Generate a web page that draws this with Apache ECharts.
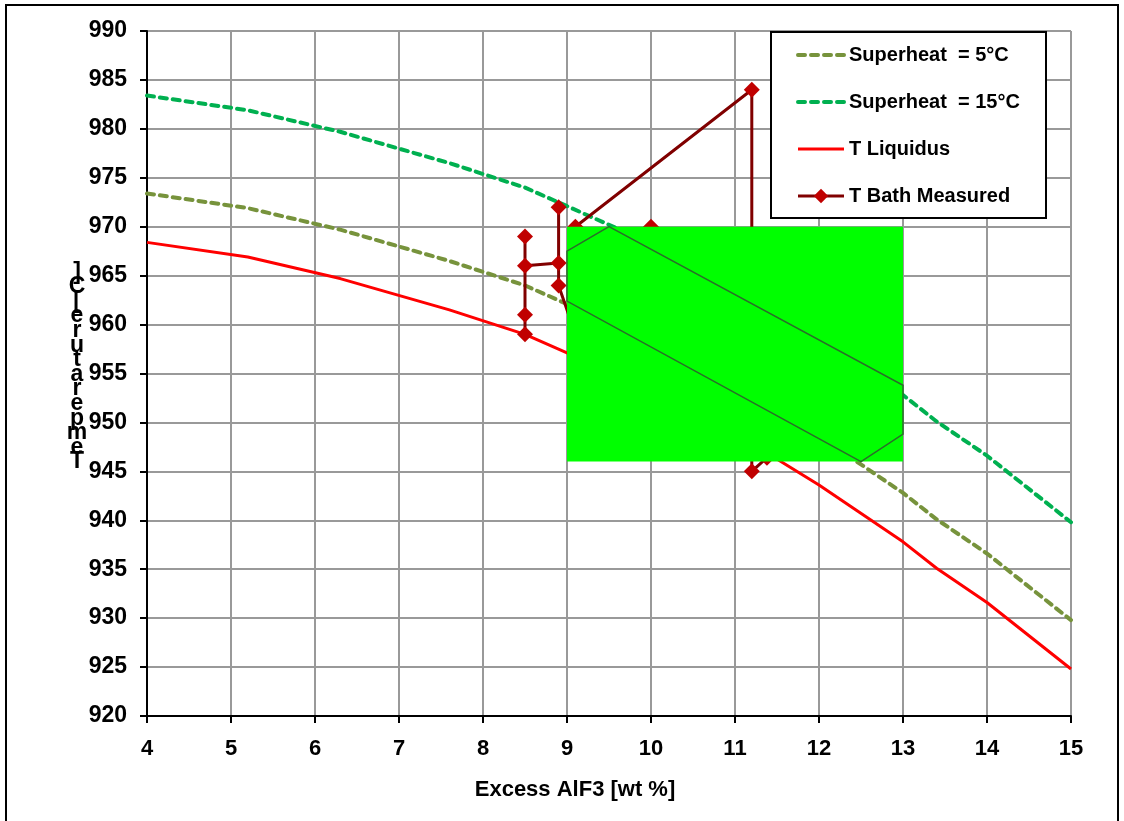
<!DOCTYPE html>
<html>
<head>
<meta charset="utf-8">
<script src="https://cdn.jsdelivr.net/npm/echarts@6/dist/echarts.min.js"></script>
<style>
html,body{margin:0;padding:0;background:#fff;}
#chart{width:1124px;height:821px;}
</style>
</head>
<body>
<div id="chart"></div>
<script>
// ---- data ----
const xAxisTitle = 'Excess AlF3 [wt %]';
const yAxisTitle = 'Temperature[C]';
const seriesNames = ['Superheat  = 5°C', 'Superheat  = 15°C', 'T Liquidus', 'T Bath Measured'];

const curveX = [4, 5.2, 6.3, 7.6, 8.5, 9, 10, 11, 12, 13, 13.4, 14, 15];
const liquidusY = [968.4, 966.9, 964.7, 961.5, 959.0, 957.1, 953.3, 948.9, 943.6, 937.8, 935.1, 931.6, 924.8];
const superheat5Y = [973.4, 971.9, 969.7, 966.5, 964.0, 962.1, 958.3, 953.9, 948.6, 942.8, 940.1, 936.6, 929.8];
const superheat15Y = [983.4, 981.9, 979.7, 976.5, 974.0, 972.1, 968.3, 963.9, 958.6, 952.8, 950.1, 946.6, 939.8];

const measuredX = [8.5, 8.5, 8.5, 8.5, 8.9, 8.9, 8.9, 9.1, 9.1, 11.2, 11.2, 11.38, 10.0];
const measuredY = [969, 961, 959, 966, 966.3, 972, 964, 959, 970, 984, 945, 946.4, 970];

const boxX = [9, 13];
const boxY = [946, 970];
const windowX = [9, 9.5, 13, 13, 12.5, 9];
const windowY = [967.5, 970, 953.8, 948.8, 946, 962.4];

const xMin = 4, xMax = 15, xStep = 1;
const yMin = 920, yMax = 990, yStep = 5;

// ---- chart ----
const FONT = '"Liberation Sans", Arial, sans-serif';
const pair = (xs, ys) => xs.map((x, i) => [x, ys[i]]);
const dash5 = {color: '#77933c', width: 4, type: [7, 6], cap: 'round'};
const dash15 = {color: '#00b050', width: 4, type: [7, 6], cap: 'round'};
const solidRed = {color: '#ff0000', width: 3};
const measLine = {color: '#800000', width: 3};

const chart = echarts.init(document.getElementById('chart'), null, {renderer: 'canvas'});

const option = {
  animation: false,
  backgroundColor: '#fff',
  grid: {left: 147, right: 53, top: 31, bottom: 105, containLabel: false},
  xAxis: {
    type: 'value', min: xMin, max: xMax, interval: xStep,
    axisLine: {show: true, onZero: false, lineStyle: {color: '#000', width: 2}},
    axisTick: {show: true, inside: false, length: 7, lineStyle: {color: '#000', width: 2}},
    axisLabel: {margin: 22, color: '#000', fontFamily: FONT, fontWeight: 'bold', fontSize: 22},
    splitLine: {show: true, lineStyle: {color: '#999', width: 2}}
  },
  yAxis: {
    type: 'value', min: yMin, max: yMax, interval: yStep,
    axisLine: {show: true, onZero: false, lineStyle: {color: '#000', width: 2}},
    axisTick: {show: true, inside: false, length: 7, lineStyle: {color: '#000', width: 2}},
    axisLabel: {margin: 20, color: '#000', fontFamily: FONT, fontWeight: 'bold', fontSize: 23},
    splitLine: {show: true, lineStyle: {color: '#999', width: 2}}
  },
  legend: {
    orient: 'vertical', left: 796, top: 44,
    itemWidth: 46, itemHeight: 18, itemGap: 25, padding: 0,
    data: [
      {name: seriesNames[0], itemStyle: {opacity: 0}, lineStyle: dash5},
      {name: seriesNames[1], itemStyle: {opacity: 0}, lineStyle: dash15},
      {name: seriesNames[2], itemStyle: {opacity: 0}, lineStyle: solidRed},
      {name: seriesNames[3], lineStyle: measLine}
    ],
    textStyle: {fontFamily: FONT, fontWeight: 'bold', fontSize: 20, color: '#000', lineHeight: 22},
    z: 60
  },
  graphic: [
    {type: 'rect', z: 0, silent: true,
      shape: {x: 6, y: 5, width: 1112, height: 830},
      style: {fill: null, stroke: '#000', lineWidth: 2}},
    {type: 'rect', z: 50, silent: true,
      shape: {x: 771, y: 32, width: 275, height: 186},
      style: {fill: '#fff', stroke: '#000', lineWidth: 2}},
    {type: 'text', z: 50, x: 77, y: 265, silent: true,
      style: {text: yAxisTitle.split('').reverse().join('\n'), font: 'bold 23px ' + FONT,
        fill: '#000', align: 'center', verticalAlign: 'top', lineHeight: 14.6}},
    {type: 'text', z: 50, x: 575, y: 790, silent: true,
      style: {text: xAxisTitle, font: 'bold 22px ' + FONT, fill: '#000',
        align: 'center', verticalAlign: 'middle'}}
  ],
  series: [
    {name: seriesNames[0], type: 'line', data: pair(curveX, superheat5Y), showSymbol: false, symbol: 'none',
      lineStyle: dash5, itemStyle: {color: '#77933c'}, z: 2},
    {name: seriesNames[1], type: 'line', data: pair(curveX, superheat15Y), showSymbol: false, symbol: 'none',
      lineStyle: dash15, itemStyle: {color: '#00b050'}, z: 2},
    {name: seriesNames[2], type: 'line', data: pair(curveX, liquidusY), showSymbol: false, symbol: 'none',
      lineStyle: solidRed, itemStyle: {color: '#ff0000'}, z: 2},
    {name: seriesNames[3], type: 'line', data: pair(measuredX, measuredY),
      symbol: 'diamond', symbolSize: 16, showSymbol: true,
      lineStyle: measLine, itemStyle: {color: '#c00000', borderWidth: 0}, z: 3},
    {name: 'window', type: 'custom', z: 10, clip: false, silent: true,
      data: [[boxX[0], boxY[0]]],
      renderItem: function (params, api) {
        const p1 = api.coord([boxX[0], boxY[1]]);
        const p2 = api.coord([boxX[1], boxY[0]]);
        const pts = windowX.map((x, i) => api.coord([x, windowY[i]]));
        return {type: 'group', children: [
          {type: 'rect', shape: {x: p1[0], y: p1[1], width: p2[0] - p1[0], height: p2[1] - p1[1]},
            style: {fill: '#00ff00'}},
          {type: 'polygon', shape: {points: pts},
            style: {fill: null, stroke: '#2a6e2a', lineWidth: 1.5}}
        ]};
      }
    }
  ]
};
chart.setOption(option);
</script>
</body>
</html>
